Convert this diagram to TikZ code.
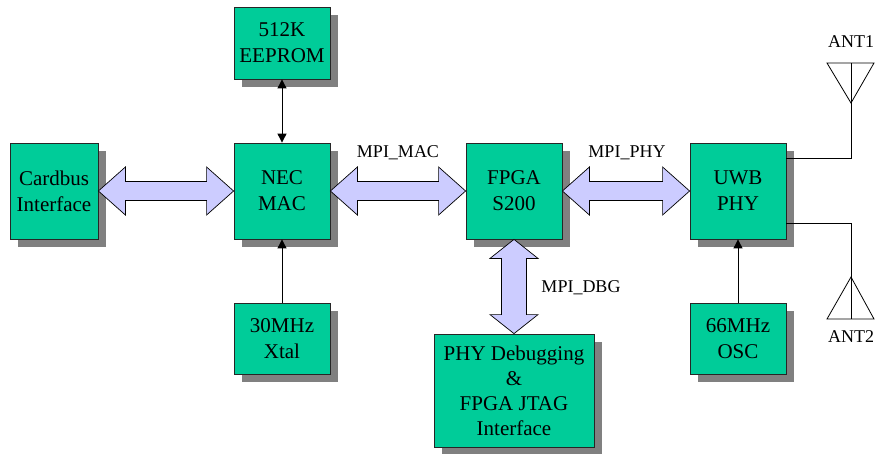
\documentclass[tikz,border=0pt]{standalone}
\usepackage{fontspec}
\setmainfont{Liberation Serif}
\usetikzlibrary{shadows,calc,arrows.meta}
\definecolor{boxgreen}{HTML}{00CC99}
\definecolor{fatblue}{HTML}{CCCCFF}
\definecolor{shadowgray}{HTML}{808080}
\tikzset{
  blockbox/.style={draw=black!85, line width=0.8pt, fill=boxgreen, align=center,
    font=\fontsize{21}{26}\selectfont, inner sep=0pt,
    drop shadow={shadow xshift=8pt, shadow yshift=-8pt, fill=shadowgray, opacity=1}},
  fatarrow/.style={draw=black, line width=0.7pt, fill=fatblue},
  thinarrow/.style={draw=black, line width=0.9pt, -{Triangle[length=9pt,width=9pt]}},
  thinline/.style={draw=black, line width=0.8pt},
  lbl/.style={font=\fontsize{18}{20}\selectfont, inner sep=0pt},
}
\begin{document}
\begin{tikzpicture}[x=1pt,y=-1pt]
\useasboundingbox (0,0) rectangle (881,453);
% boxes
\node[blockbox, minimum width=96pt, minimum height=72pt] (eeprom) at (282,43) {512K\\EEPROM};
\node[blockbox, minimum width=88pt, minimum height=96pt] (cardbus) at (54,191) {Cardbus\\Interface};
\node[blockbox, minimum width=96pt, minimum height=96pt] (nec) at (282,191) {NEC\\MAC};
\node[blockbox, minimum width=96pt, minimum height=96pt] (fpga) at (514,191) {FPGA\\S200};
\node[blockbox, minimum width=96pt, minimum height=96pt] (uwb) at (738,191) {UWB\\PHY};
\node[blockbox, minimum width=96pt, minimum height=71pt] (xtal) at (282,338.5) {30MHz\\Xtal};
\node[blockbox, minimum width=96pt, minimum height=71pt] (osc) at (738,338.5) {66MHz\\OSC};
\node[blockbox, minimum width=160pt, minimum height=113pt, font=\fontsize{21}{25}\selectfont] (dbg) at (514,390.5) {PHY Debugging\\\&\\FPGA JTAG\\Interface};
% fat horizontal arrows
\foreach \a/\b in {cardbus/nec, nec/fpga, fpga/uwb}{
  \draw[fatarrow] (\a.east) -- ++(27,-24) -- ++(0,14.5) -- ($(\b.west)+(-27,-9.5)$)
    -- ++(0,-14.5) -- (\b.west) -- ++(-27,24) -- ++(0,-14.5) -- ($(\a.east)+(27,9.5)$)
    -- ++(0,14.5) -- cycle;
}
% fat vertical arrow
\draw[fatarrow] (fpga.south) -- ++(24,19) -- ++(-11.5,0) -- ($(dbg.north)+(12.5,-19)$)
  -- ++(11.5,0) -- (dbg.north) -- ++(-24,-19) -- ++(11.5,0) -- ($(fpga.south)+(-12.5,19)$)
  -- ++(-11.5,0) -- cycle;
% labels
\node[lbl] (mpimac) at (398,153) {MPI\_MAC};
\node[lbl] (mpiphy) at (627,153) {MPI\_PHY};
\node[lbl] (mpidbg) at (581,288) {MPI\_DBG};
% thin arrows
\draw[thinarrow, {Triangle[length=9pt,width=9pt]}-{Triangle[length=9pt,width=9pt]}] (eeprom.south) -- (nec.north);
\draw[thinarrow] (xtal.north) -- (nec.south);
\draw[thinarrow] (osc.north) -- (uwb.south);
% antennas
\coordinate (ant1apex) at (851,103);
\coordinate (ant1top) at (851,63);
\coordinate (ant2apex) at (851,277);
\coordinate (ant2base) at (851,319);
\draw[thinline] (827,63) -- (874,63) -- (ant1apex) -- cycle;
\draw[thinline] (ant1top) -- (ant1apex);
\draw[thinline] (ant2apex) -- (827,319) -- (874,319) -- cycle;
\draw[thinline] (ant2apex) -- (ant2base);
\draw[thinline] ($(uwb.north east)+(0,16)$) -| (ant1apex);
\draw[thinline] ($(uwb.south east)+(0,-16)$) -| (ant2apex);
\node[lbl] (ant1) at (851,42) {ANT1};
\node[lbl] (ant2) at (851,337) {ANT2};
\end{tikzpicture}
\end{document}
